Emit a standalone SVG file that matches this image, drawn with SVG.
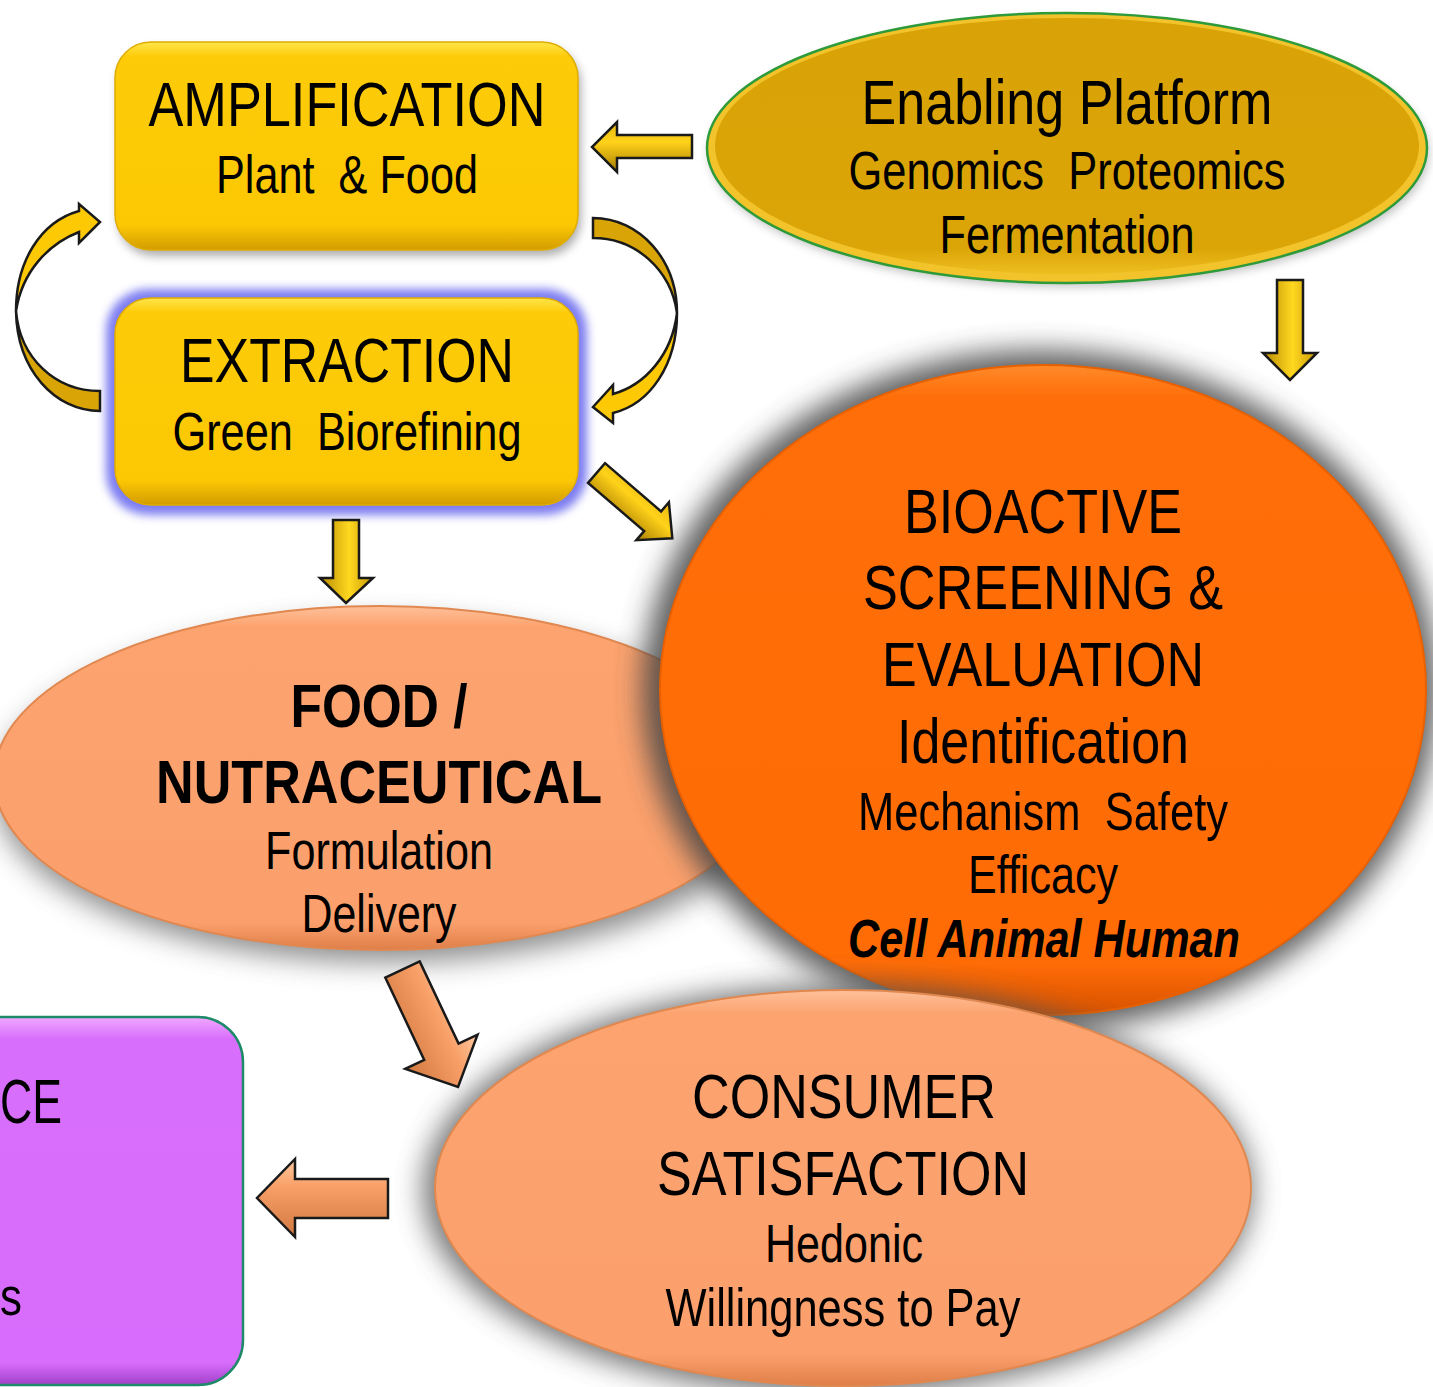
<svg xmlns="http://www.w3.org/2000/svg" width="1433" height="1387" viewBox="0 0 1433 1387">
<defs>
<style>
.t{font-family:'Liberation Sans Narrow','Liberation Sans',Arial,sans-serif;fill:#000;text-anchor:middle}
.b{font-weight:bold}
.bi{font-weight:bold;font-style:italic}
.arr{stroke:#1a1a1a;stroke-width:2.5;stroke-linejoin:miter}
</style>
<filter id="blur14" x="-30%" y="-30%" width="160%" height="160%"><feGaussianBlur stdDeviation="14"/></filter>
<filter id="blur8" x="-30%" y="-30%" width="160%" height="160%"><feGaussianBlur stdDeviation="8"/></filter>
<filter id="blur5" x="-30%" y="-30%" width="160%" height="160%"><feGaussianBlur stdDeviation="5"/></filter>
<linearGradient id="gYel" x1="0" y1="0" x2="0" y2="1">
<stop offset="0" stop-color="#FFE64A"/><stop offset="0.07" stop-color="#FDCB08"/><stop offset="0.88" stop-color="#FCC804"/><stop offset="1" stop-color="#D39C00"/>
</linearGradient>
<linearGradient id="gEn" x1="0" y1="0" x2="0" y2="1">
<stop offset="0" stop-color="#D9A206"/><stop offset="0.9" stop-color="#DBA507"/><stop offset="1" stop-color="#EDBE20"/>
</linearGradient>
<linearGradient id="gOr" x1="0" y1="0" x2="0" y2="1">
<stop offset="0" stop-color="#FF8A2A"/><stop offset="0.05" stop-color="#FF6E08"/><stop offset="0.92" stop-color="#FF6C06"/><stop offset="1" stop-color="#D85200"/>
</linearGradient>
<linearGradient id="gSal" x1="0" y1="0" x2="0" y2="1">
<stop offset="0" stop-color="#FFC09A"/><stop offset="0.06" stop-color="#FCA36F"/><stop offset="0.92" stop-color="#FBA06C"/><stop offset="1" stop-color="#DF7E48"/>
</linearGradient>
<linearGradient id="gPur" x1="0" y1="0" x2="0" y2="1">
<stop offset="0" stop-color="#F0A8FF"/><stop offset="0.06" stop-color="#D86EFC"/><stop offset="0.94" stop-color="#D86CFC"/><stop offset="1" stop-color="#A040C8"/>
</linearGradient>
<linearGradient id="aYv" x1="0" y1="0" x2="1" y2="0">
<stop offset="0" stop-color="#B88A00"/><stop offset="0.55" stop-color="#FFD820"/><stop offset="1" stop-color="#C89A05"/>
</linearGradient>
<linearGradient id="aYh" x1="0" y1="0" x2="0" y2="1">
<stop offset="0" stop-color="#E8B810"/><stop offset="0.4" stop-color="#FFD21A"/><stop offset="1" stop-color="#A87C00"/>
</linearGradient>
<linearGradient id="aSh" x1="0" y1="0" x2="0" y2="1">
<stop offset="0" stop-color="#FFC8A0"/><stop offset="0.35" stop-color="#F9A068"/><stop offset="1" stop-color="#D07840"/>
</linearGradient>
</defs>

<rect width="1433" height="1387" fill="#fff"/>

<!-- FOOD / NUTRACEUTICAL -->
<g id="food">
<ellipse cx="385" cy="792" rx="390" ry="170" fill="#666" opacity="0.75" filter="url(#blur14)"/>
<ellipse cx="380" cy="778" rx="386" ry="172" fill="url(#gSal)" stroke="#E08850" stroke-width="2"/>
<text class="t b" x="379" y="727" font-size="62" textLength="177" lengthAdjust="spacingAndGlyphs">FOOD /</text>
<text class="t b" x="379" y="803" font-size="62" textLength="446" lengthAdjust="spacingAndGlyphs">NUTRACEUTICAL</text>
<text class="t" x="379" y="869" font-size="53" textLength="228" lengthAdjust="spacingAndGlyphs">Formulation</text>
<text class="t" x="379" y="932" font-size="53" textLength="155" lengthAdjust="spacingAndGlyphs">Delivery</text>
</g>

<!-- BIOACTIVE -->
<g id="bioactive">
<ellipse cx="1040" cy="690" rx="398" ry="340" fill="#444" opacity="0.85" filter="url(#blur14)"/>
<ellipse cx="1043" cy="690" rx="383" ry="325" fill="url(#gOr)" stroke="#E86000" stroke-width="2"/>
<text class="t" x="1043" y="533" font-size="63" textLength="278" lengthAdjust="spacingAndGlyphs">BIOACTIVE</text>
<text class="t" x="1043" y="609" font-size="63" textLength="360" lengthAdjust="spacingAndGlyphs">SCREENING &amp;</text>
<text class="t" x="1043" y="686" font-size="63" textLength="322" lengthAdjust="spacingAndGlyphs">EVALUATION</text>
<text class="t" x="1043" y="763" font-size="63" textLength="292" lengthAdjust="spacingAndGlyphs">Identification</text>
<text class="t" x="1043" y="830" font-size="53" textLength="370" lengthAdjust="spacingAndGlyphs" xml:space="preserve">Mechanism  Safety</text>
<text class="t" x="1043" y="893" font-size="53" textLength="150" lengthAdjust="spacingAndGlyphs">Efficacy</text>
<text class="t bi" x="1044" y="957" font-size="53" textLength="392" lengthAdjust="spacingAndGlyphs">Cell Animal Human</text>
</g>

<!-- CONSUMER SATISFACTION -->
<g id="consumer">
<ellipse cx="838" cy="1190" rx="415" ry="205" fill="#555" opacity="0.8" filter="url(#blur14)"/>
<ellipse cx="843" cy="1188" rx="408" ry="198" fill="url(#gSal)" stroke="#E08850" stroke-width="2"/>
<text class="t" x="844" y="1118" font-size="63" textLength="304" lengthAdjust="spacingAndGlyphs">CONSUMER</text>
<text class="t" x="843" y="1195" font-size="63" textLength="372" lengthAdjust="spacingAndGlyphs">SATISFACTION</text>
<text class="t" x="844" y="1262" font-size="53" textLength="158" lengthAdjust="spacingAndGlyphs">Hedonic</text>
<text class="t" x="843" y="1326" font-size="53" textLength="355" lengthAdjust="spacingAndGlyphs">Willingness to Pay</text>
</g>

<!-- purple partial box -->
<g id="purple">
<rect x="-60" y="1017" width="303" height="368" rx="45" fill="url(#gPur)" stroke="#1E8A6A" stroke-width="2.5"/>
<text class="t" x="31" y="1123" font-size="63" textLength="62" lengthAdjust="spacingAndGlyphs">CE</text>
<text class="t" x="11" y="1315" font-size="53" textLength="22" lengthAdjust="spacingAndGlyphs">s</text>
</g>

<!-- AMPLIFICATION -->
<g id="amplification">
<rect x="118" y="48" width="463" height="208" rx="36" fill="#777" opacity="0.6" filter="url(#blur5)"/>
<rect x="115" y="42" width="463" height="208" rx="36" fill="url(#gYel)" stroke="#E0AC00" stroke-width="1.5"/>
<text class="t" x="347" y="126" font-size="63" textLength="397" lengthAdjust="spacingAndGlyphs">AMPLIFICATION</text>
<text class="t" x="347" y="193" font-size="53" textLength="262" lengthAdjust="spacingAndGlyphs" xml:space="preserve">Plant  &amp; Food</text>
</g>

<!-- EXTRACTION -->
<g id="extraction">
<rect x="106" y="289" width="481" height="226" rx="42" fill="#6E6EF0" opacity="0.9" filter="url(#blur5)"/>
<rect x="115" y="298" width="463" height="207" rx="36" fill="url(#gYel)" stroke="#E0AC00" stroke-width="1.5"/>
<text class="t" x="347" y="382" font-size="63" textLength="334" lengthAdjust="spacingAndGlyphs">EXTRACTION</text>
<text class="t" x="347" y="450" font-size="53" textLength="349" lengthAdjust="spacingAndGlyphs" xml:space="preserve">Green  Biorefining</text>
</g>

<!-- Enabling Platform -->
<g id="enabling">
<ellipse cx="1069" cy="153" rx="360" ry="134" fill="#888" opacity="0.5" filter="url(#blur5)"/>
<ellipse cx="1067" cy="148" rx="360" ry="135" fill="#F2C32A" stroke="#2E9A3A" stroke-width="2.5"/>
<ellipse cx="1067" cy="146" rx="352" ry="128" fill="url(#gEn)"/>
<text class="t" x="1067" y="124" font-size="63" textLength="411" lengthAdjust="spacingAndGlyphs">Enabling Platform</text>
<text class="t" x="1067" y="189" font-size="53" textLength="437" lengthAdjust="spacingAndGlyphs" xml:space="preserve">Genomics  Proteomics</text>
<text class="t" x="1067" y="253" font-size="53" textLength="255" lengthAdjust="spacingAndGlyphs">Fermentation</text>
</g>

<!-- connectors -->
<g id="connectors">
<!-- Enabling -> Amplification -->
<path class="arr" fill="url(#aYh)" d="M692,135 L617,135 L617,122 L592,147 L617,172 L617,158 L692,158 Z"/>
<!-- Enabling -> Bioactive -->
<path class="arr" fill="url(#aYv)" d="M1277,280 L1303,280 L1303,353 L1317,353 L1290,380 L1263,353 L1277,353 Z"/>
<!-- Extraction -> Food -->
<path class="arr" fill="url(#aYv)" d="M333,520 L359,520 L359,578 L373,578 L346,603 L320,578 L333,578 Z"/>
<!-- Extraction -> Bioactive -->
<path class="arr" fill="url(#aYh)" transform="translate(596.5,473) rotate(40.7)" d="M0,-13 L74,-13 L74,-25 L100,0 L74,25 L74,13 L0,13 Z"/>
<!-- Food -> Consumer -->
<path class="arr" fill="url(#aSh)" transform="translate(402.5,969.5) rotate(64.7)" d="M0,-19 L91,-19 L91,-40 L130,0 L91,40 L91,19 L0,19 Z"/>
<!-- Consumer -> purple -->
<path class="arr" fill="url(#aSh)" d="M388,1179 L295,1179 L295,1159 L257,1198 L295,1237 L295,1218 L388,1218 Z"/>
<!-- Extraction -> Amplification curved (left) -->
<path class="arr" fill="#D8A406" d="M100,391 L100,411 C55,411 17,370 16,311 C20,358 55,391 100,391 Z"/>
<path class="arr" fill="#FDC905" d="M16,311 C16,262 40,222 79,211 L79,204 L100,222 L79,243 L79,232 C48,244 22,272 16,311 Z"/>
<!-- Amplification -> Extraction curved (right) -->
<path class="arr" fill="#D8A406" d="M593,218 L593,238 C636,238 671,270 677,313 C677,260 640,218 593,218 Z"/>
<path class="arr" fill="#FDC905" d="M677,313 C677,365 650,404 613,413 L613,423 L593,407 L613,385 L613,394 C645,385 672,355 677,313 Z"/>
</g>
</svg>
